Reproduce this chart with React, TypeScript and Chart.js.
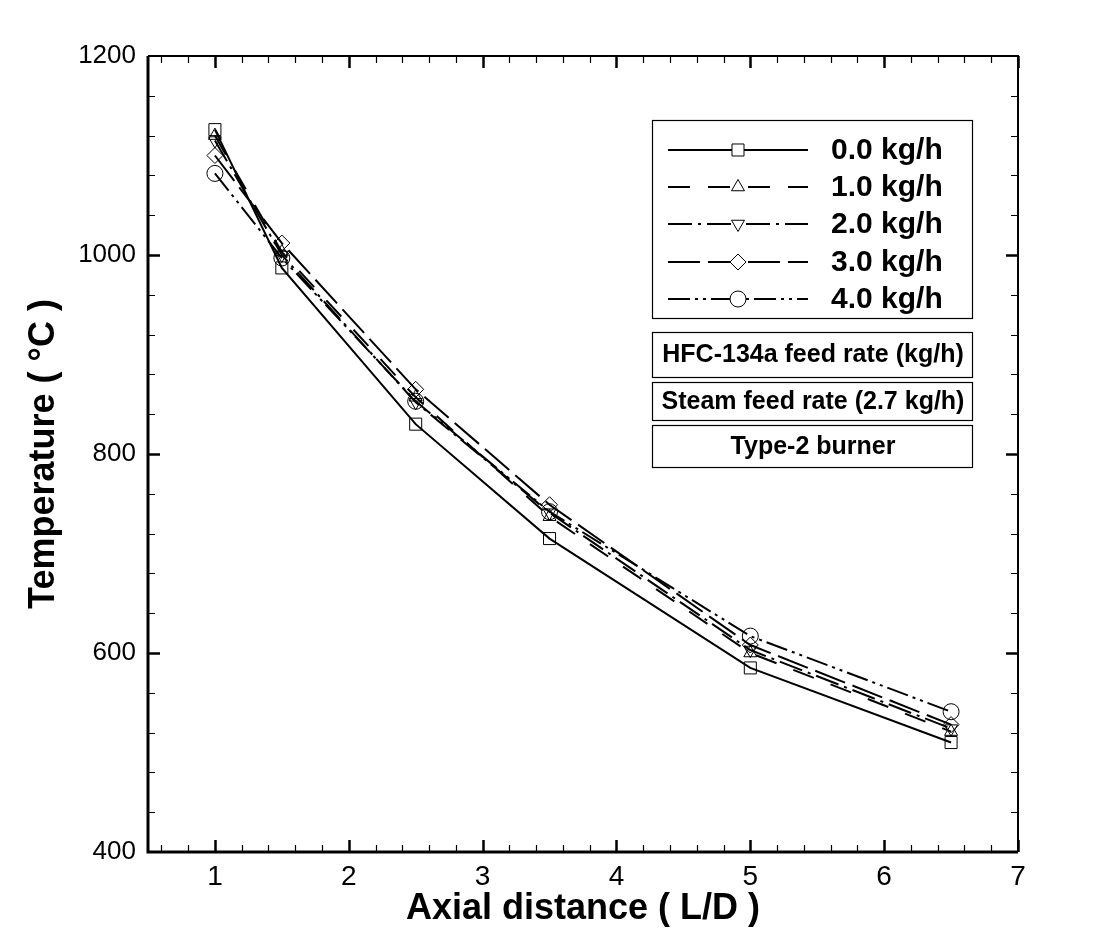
import React, { useEffect, useRef } from "react";
import { Chart, registerables } from "chart.js";

Chart.register(...registerables);

const xValues = [1, 1.5, 2.5, 3.5, 5, 6.5];
const seriesLabels = ["0.0 kg/h", "1.0 kg/h", "2.0 kg/h", "3.0 kg/h", "4.0 kg/h"];
const s00 = [1126, 987, 830, 715, 585, 510];
const s10 = [1120, 1003, 857, 737, 600, 521];
const s20 = [1115, 1000, 852, 741, 603, 524];
const s30 = [1100, 1012, 865, 749, 608, 528];
const s40 = [1082, 997, 853, 742, 617, 541];
const xTickValues = [1, 2, 3, 4, 5, 6, 7];
const yTickValues = [400, 600, 800, 1000, 1200];
const infoLines = ["HFC-134a feed rate (kg/h)", "Steam feed rate (2.7 kg/h)", "Type-2 burner"];

const FONT = "'Liberation Sans', Arial, sans-serif";

const styles = [
  { dash: [], point: "rect", radius: 8.5, rot: 0 },
  { dash: [22, 18], point: "triangle", radius: 7.5, rot: 0 },
  { dash: [24, 6, 3, 6], point: "triangle", radius: 7.5, rot: 180 },
  { dash: [32, 8], point: "rectRot", radius: 8, rot: 0 },
  { dash: [22, 5, 3, 5, 3, 5], point: "circle", radius: 8, rot: 0 },
];

function drawMarker(ctx: CanvasRenderingContext2D, style: string, r: number, rot: number, x: number, y: number) {
  ctx.save();
  ctx.setLineDash([]);
  ctx.lineWidth = 1;
  ctx.strokeStyle = "#000";
  ctx.fillStyle = "#fff";
  ctx.translate(x, y);
  ctx.rotate((rot * Math.PI) / 180);
  ctx.beginPath();
  if (style === "rect") {
    const s = Math.SQRT1_2 * r;
    ctx.rect(-s, -s, 2 * s, 2 * s);
  } else if (style === "triangle") {
    ctx.moveTo(0, -r);
    ctx.lineTo(r * Math.cos(Math.PI / 6), r * 0.5);
    ctx.lineTo(-r * Math.cos(Math.PI / 6), r * 0.5);
    ctx.closePath();
  } else if (style === "rectRot") {
    ctx.moveTo(0, -r);
    ctx.lineTo(r, 0);
    ctx.lineTo(0, r);
    ctx.lineTo(-r, 0);
    ctx.closePath();
  } else {
    ctx.arc(0, 0, r, 0, Math.PI * 2);
  }
  ctx.fill();
  ctx.stroke();
  ctx.restore();
}

const framePlugin = {
  id: "frameTicks",
  afterDatasetsDraw(chart: any) {
    const ctx: CanvasRenderingContext2D = chart.ctx;
    const { left, right, top, bottom } = chart.chartArea;
    const xs = chart.scales.x;
    const ys = chart.scales.y;
    ctx.save();
    ctx.strokeStyle = "#000";
    ctx.setLineDash([]);
    for (let v = 0.6; v < 7.001; v += 0.2) {
      const vv = Math.round(v * 10) / 10;
      const major = Math.abs(vv - Math.round(vv)) < 1e-6;
      const len = major ? 12 : 7;
      const px = Math.round(xs.getPixelForValue(vv)) + 0.5;
      ctx.lineWidth = major ? 2.5 : 1.2;
      ctx.beginPath();
      ctx.moveTo(px, bottom);
      ctx.lineTo(px, bottom - len);
      ctx.moveTo(px, top);
      ctx.lineTo(px, top + len);
      ctx.stroke();
    }
    for (let v = 440; v < 1200; v += 40) {
      const major = v % 200 === 0;
      const len = major ? 12 : 7;
      const py = Math.round(ys.getPixelForValue(v)) + 0.5;
      ctx.lineWidth = major ? 2.5 : 1.2;
      ctx.beginPath();
      ctx.moveTo(left, py);
      ctx.lineTo(left + len, py);
      ctx.moveTo(right, py);
      ctx.lineTo(right - len, py);
      ctx.stroke();
    }
    ctx.lineWidth = 3;
    ctx.beginPath();
    ctx.moveTo(left, top);
    ctx.lineTo(left, bottom);
    ctx.lineTo(right, bottom);
    ctx.stroke();
    ctx.lineWidth = 2;
    ctx.beginPath();
    ctx.moveTo(left, top);
    ctx.lineTo(right, top);
    ctx.lineTo(right, bottom);
    ctx.stroke();

    ctx.lineWidth = 1.2;
    ctx.strokeRect(652.5, 120.5, 320, 198);
    const rows = [150, 187, 224, 262, 299];
    chart.data.datasets.forEach((ds: any, i: number) => {
      const st = styles[i];
      const y = rows[i];
      ctx.save();
      ctx.lineWidth = 2.2;
      ctx.setLineDash(st.dash);
      ctx.beginPath();
      ctx.moveTo(668, y);
      ctx.lineTo(808, y);
      ctx.stroke();
      ctx.restore();
      drawMarker(ctx, st.point, st.radius, st.rot, 738, y);
      ctx.fillStyle = "#000";
      ctx.font = `bold 30px ${FONT}`;
      ctx.textAlign = "left";
      ctx.textBaseline = "middle";
      ctx.fillText(ds.label, 831, y + 1);
    });
    const boxes = [
      [332, 45],
      [382, 38],
      [425, 42],
    ];
    ctx.lineWidth = 1.2;
    boxes.forEach((b, i) => {
      ctx.strokeRect(652.5, b[0] + 0.5, 320, b[1]);
      ctx.fillStyle = "#000";
      ctx.font = `bold 25px ${FONT}`;
      ctx.textAlign = "center";
      ctx.textBaseline = "middle";
      ctx.fillText(infoLines[i], 813, b[0] + b[1] / 2 + 1);
    });
    ctx.restore();
  },
};

export default function App() {
  const ref = useRef<HTMLCanvasElement | null>(null);
  useEffect(() => {
    if (!ref.current) return;
    const all = [s00, s10, s20, s30, s40];
    const chart = new Chart(ref.current, {
      type: "line",
      data: {
        datasets: all.map((arr, i) => ({
          label: seriesLabels[i],
          data: xValues.map((x, j) => ({ x, y: arr[j] })),
          borderColor: "#000",
          borderWidth: 2,
          borderDash: styles[i].dash,
          backgroundColor: "transparent",
          pointStyle: styles[i].point as any,
          pointRadius: styles[i].radius,
          pointRotation: styles[i].rot,
          pointBorderWidth: 1,
          pointBorderColor: "#000",
          pointBackgroundColor: "transparent",
          tension: 0,
          fill: false,
        })),
      },
      options: {
        animation: false,
        responsive: false,
        layout: { padding: { top: 56, right: 101, left: 0, bottom: 0 } },
        plugins: { legend: { display: false }, tooltip: { enabled: false } },
        scales: {
          x: {
            type: "linear",
            min: 0.5,
            max: 7,
            afterBuildTicks: (s: any) => {
              s.ticks = xTickValues.map((v) => ({ value: v }));
            },
            afterFit: (s: any) => {
              s.height = 87;
            },
            grid: { display: false, drawTicks: false },
            border: { display: false },
            ticks: {
              color: "#000",
              padding: 8,
              maxRotation: 0,
              autoSkip: false,
              font: { family: FONT, size: 28 },
              callback: (v: any) => String(v),
            },
            title: {
              display: true,
              text: "Axial distance ( L/D )",
              color: "#000",
              font: { family: FONT, size: 36, weight: "bold" },
              padding: { top: 0, bottom: 8 },
            },
          },
          y: {
            type: "linear",
            min: 400,
            max: 1200,
            afterBuildTicks: (s: any) => {
              s.ticks = yTickValues.map((v) => ({ value: v }));
            },
            afterFit: (s: any) => {
              s.width = 148;
            },
            grid: { display: false, drawTicks: false },
            border: { display: false },
            ticks: {
              color: "#000",
              padding: 12,
              autoSkip: false,
              font: { family: FONT, size: 26 },
              callback: (v: any) => String(v),
            },
            title: {
              display: true,
              text: "Temperature ( °C )",
              color: "#000",
              font: { family: FONT, size: 36, weight: "bold" },
              padding: { top: 22, bottom: 0 },
            },
          },
        },
      },
      plugins: [framePlugin],
    });
    return () => chart.destroy();
  }, []);
  return (
    <div style={{ position: "absolute", left: 0, top: 0, width: 1119, height: 939, background: "#fff" }}>
      <canvas ref={ref} width={1119} height={939} style={{ width: 1119, height: 939 }} />
    </div>
  );
}
